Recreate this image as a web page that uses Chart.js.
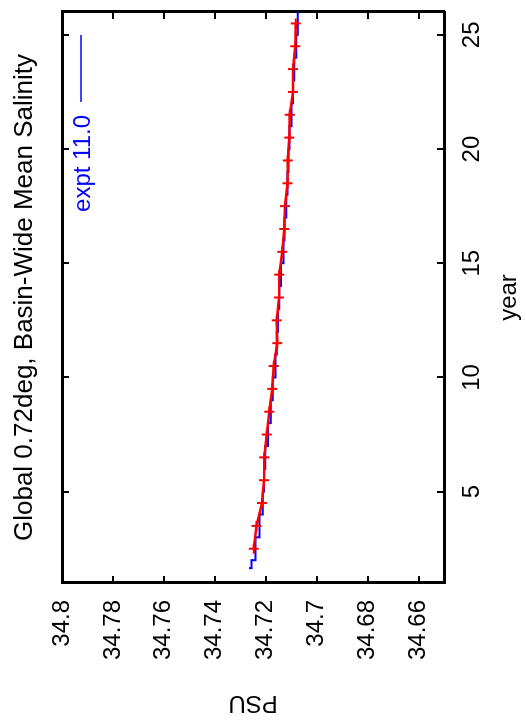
<!DOCTYPE html>
<html>
<head>
<meta charset="utf-8">
<script src="https://cdn.jsdelivr.net/npm/chart.js@4.4.1/dist/chart.umd.min.js"></script>
<style>
html, body { margin: 0; padding: 0; background: #fff; overflow: hidden; }
#wrap {
    position: absolute; left: 0; top: 0; width: 727px; height: 526px;
    transform-origin: 0 0; transform: translate(0, 727px) rotate(-90deg);
}
</style>
</head>
<body>
<div id="wrap"><canvas id="chart" width="727" height="526"></canvas></div>
<script>
var chartTitle = 'Global 0.72deg, Basin-Wide Mean Salinity';
var seriesLabel = 'expt 11.0';

// annual means, plotted at mid-year (red)
var meanYears = [2.5, 3.5, 4.5, 5.5, 6.5, 7.5, 8.5, 9.5, 10.5, 11.5, 12.5, 13.5,
                 14.5, 15.5, 16.5, 17.5, 18.5, 19.5, 20.5, 21.5, 22.5, 23.5, 24.5, 25.5];
var meanPsu = [34.7247, 34.7236, 34.7215, 34.7207, 34.7206, 34.7196, 34.7186, 34.7174,
               34.7169, 34.7155, 34.7157, 34.7148, 34.7147, 34.7135, 34.7127, 34.7124,
               34.7115, 34.7114, 34.7108, 34.7106, 34.7093, 34.7093, 34.7084, 34.7082];

// expt 11.0 stepped series (blue)
var stepYears = [1.65, 2, 3, 4, 5, 6, 7, 8, 9, 10, 11, 12, 13, 14, 15, 16, 17, 18,
                 19, 20, 21, 22, 23, 24, 25, 25.5, 26];
var stepPsu = [34.7266, 34.7256, 34.7240, 34.7224, 34.7212, 34.7207, 34.7202, 34.7191,
               34.7180, 34.7172, 34.7162, 34.7157, 34.7152, 34.7147, 34.7140, 34.7130,
               34.7126, 34.7119, 34.7115, 34.7111, 34.7107, 34.7099, 34.7093, 34.7088,
               34.7080, 34.7074, 34.7074];

var yearTicks = [5, 10, 15, 20, 25];
var psuTicks = [34.66, 34.68, 34.7, 34.72, 34.74, 34.76, 34.78, 34.8];
var psuTickLabels = ['34.66', '34.68', '34.7', '34.72', '34.74', '34.76', '34.78', '34.8'];

function toPoints(xs, ys) {
    var pts = [];
    for (var i = 0; i < xs.length; i++) {
        pts.push({x: xs[i], y: ys[i]});
    }
    return pts;
}

function setTicks(values) {
    return function(axis) {
        axis.ticks = values.map(function(v) { return {value: v}; });
    };
}

Chart.defaults.font.family = '"Liberation Sans", Arial, sans-serif';
Chart.defaults.font.size = 24;
Chart.defaults.color = '#000';

var tickGrid = {
    drawOnChartArea: false,
    drawTicks: true,
    tickLength: -7,
    lineWidth: 2,
    color: '#000'
};
var frame = {display: true, width: 3, color: '#000'};

// gnuplot-style title and key (text left of the sample line)
var titleAndKey = {
    id: 'titleAndKey',
    afterDraw: function(chart) {
        var ctx = chart.ctx;
        var area = chart.chartArea;
        ctx.save();
        ctx.fillStyle = '#000';
        ctx.font = '26px "Liberation Sans", Arial, sans-serif';
        ctx.textAlign = 'center';
        ctx.textBaseline = 'alphabetic';
        ctx.fillText(chartTitle, (area.left + area.right) / 2, 32);

        ctx.fillStyle = '#0000ff';
        ctx.font = '24px "Liberation Sans", Arial, sans-serif';
        ctx.textAlign = 'right';
        ctx.textBaseline = 'middle';
        ctx.fillText(seriesLabel, 612, 83);
        ctx.strokeStyle = '#0000ff';
        ctx.lineWidth = 1.5;
        ctx.beginPath();
        ctx.moveTo(625, 81);
        ctx.lineTo(692, 81);
        ctx.stroke();
        ctx.restore();
    }
};

var ctx = document.getElementById('chart').getContext('2d');
var chart = new Chart(ctx, {
    type: 'line',
    data: {
        datasets: [
            {
                label: 'annual mean',
                data: toPoints(meanYears, meanPsu),
                borderColor: '#ff0000',
                borderWidth: 2.5,
                pointStyle: 'cross',
                pointRadius: 5,
                pointBorderWidth: 2,
                pointBorderColor: '#ff0000',
                pointBackgroundColor: '#ff0000',
                tension: 0
            },
            {
                label: seriesLabel,
                data: toPoints(stepYears, stepPsu),
                borderColor: '#0000ff',
                borderWidth: 2,
                pointRadius: 0,
                stepped: 'after'
            }
        ]
    },
    options: {
        responsive: false,
        animation: false,
        devicePixelRatio: 1,
        layout: {padding: {left: 0, right: 4, top: 62, bottom: 0}},
        plugins: {
            legend: {display: false},
            title: {display: false},
            tooltip: {enabled: false}
        },
        scales: {
            x: {
                type: 'linear',
                position: 'bottom',
                min: 1,
                max: 26,
                afterBuildTicks: setTicks(yearTicks),
                afterFit: function(scale) { scale.height = 82; },
                grid: tickGrid,
                border: frame,
                ticks: {padding: 21, maxRotation: 0},
                title: {display: true, text: 'year', padding: {top: 0, bottom: 2}}
            },
            x2: {
                type: 'linear',
                position: 'top',
                min: 1,
                max: 26,
                afterBuildTicks: setTicks(yearTicks),
                afterFit: function(scale) { scale.height = 0; },
                grid: tickGrid,
                border: frame,
                ticks: {display: false}
            },
            y: {
                type: 'linear',
                position: 'left',
                min: 34.65,
                max: 34.8,
                afterBuildTicks: setTicks(psuTicks),
                afterFit: function(scale) { scale.width = 144; },
                grid: tickGrid,
                border: frame,
                ticks: {
                    padding: 24,
                    callback: function(value, index) { return psuTickLabels[index]; }
                },
                title: {display: true, text: 'PSU', padding: {top: 10, bottom: 0}}
            },
            y2: {
                type: 'linear',
                position: 'right',
                min: 34.65,
                max: 34.8,
                afterBuildTicks: setTicks(psuTicks),
                afterFit: function(scale) { scale.width = 0; },
                grid: tickGrid,
                border: frame,
                ticks: {display: false}
            }
        }
    },
    plugins: [titleAndKey]
});
</script>
</body>
</html>
